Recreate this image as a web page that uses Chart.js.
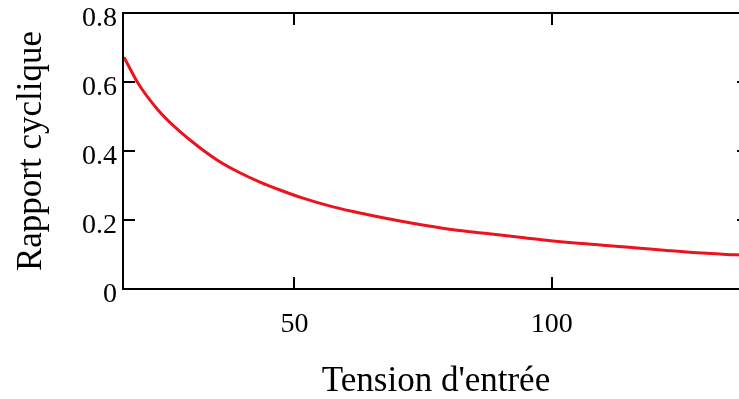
<!DOCTYPE html>
<html>
<head>
<meta charset="utf-8">
<script src="https://cdn.jsdelivr.net/npm/chart.js@4"></script>
<style>
  html, body { margin: 0; padding: 0; background: #ffffff; overflow: hidden; }
  #wrap { width: 739px; height: 399px; overflow: hidden; }
</style>
</head>
<body>
<div id="wrap"><canvas id="lineChart" width="749" height="399"></canvas></div>
<script>
// valeurs
const tension = [16.9, 19.6, 23.5, 27.4, 31.5, 35.5, 39.4, 43.3, 47.2, 51.5, 57.5, 64.1, 70.5, 75.5, 80.8, 87.4, 93.8, 100.2, 104.5, 109.9, 116.5, 122.9, 129.3, 135.9, 138.2];
const rapport = [0.672, 0.597, 0.519, 0.461, 0.411, 0.369, 0.337, 0.310, 0.287, 0.264, 0.238, 0.216, 0.197, 0.184, 0.172, 0.161, 0.150, 0.139, 0.133, 0.127, 0.119, 0.111, 0.104, 0.099, 0.097];
const xTicks = [50, 100];
const yTicks = [0, 0.2, 0.4, 0.6, 0.8];

// petits traits vers l'interieur + cadre, facon Mathcad
const cadre = {
    id: 'cadre',
    afterDraw(chart) {
        const ctx = chart.ctx;
        const a = chart.chartArea;
        const sx = chart.scales.x, sy = chart.scales.y;
        ctx.save();
        ctx.strokeStyle = '#000000';
        ctx.lineWidth = 2;
        ctx.beginPath();
        ctx.moveTo(a.right, a.top);
        ctx.lineTo(a.left, a.top);
        ctx.lineTo(a.left, a.bottom);
        ctx.lineTo(a.right, a.bottom);
        ctx.lineTo(a.right, a.top);
        xTicks.forEach(v => {
            const px = Math.round(sx.getPixelForValue(v));
            ctx.moveTo(px, a.bottom); ctx.lineTo(px, a.bottom - 12);
            ctx.moveTo(px, a.top); ctx.lineTo(px, a.top + 12);
        });
        yTicks.slice(1, -1).forEach(v => {
            const py = Math.round(sy.getPixelForValue(v));
            ctx.moveTo(a.left, py); ctx.lineTo(a.left + 12, py);
            ctx.moveTo(a.right, py); ctx.lineTo(a.right - 12, py);
        });
        ctx.stroke();
        ctx.restore();
    }
};

function getLineChart() {
    const ctx = document.getElementById('lineChart').getContext('2d');
    const lineChart = new Chart(ctx, {
        type: 'line',
        data: {
            datasets: [{
                data: tension.map((v, i) => ({ x: v, y: rapport[i] })),
                borderColor: 'rgb(235, 20, 30)',
                borderWidth: 3,
                pointRadius: 0,
                cubicInterpolationMode: 'monotone',
                fill: false
            }]
        },
        options: {
            responsive: false,
            animation: false,
            layout: { padding: { top: 13, left: 0, right: 0, bottom: 0 } },
            plugins: {
                legend: { display: false },
                tooltip: { enabled: false }
            },
            scales: {
                x: {
                    type: 'linear',
                    min: 16.7,
                    max: 138.3,
                    afterFit: s => { s.height = 110; s.paddingLeft = 0; s.paddingRight = 0; },
                    afterBuildTicks: s => { s.ticks = xTicks.map(v => ({ value: v })); },
                    grid: { display: false, drawTicks: false },
                    border: { display: false },
                    ticks: {
                        padding: 19,
                        color: '#000000',
                        font: { family: 'Liberation Serif', size: 28 }
                    },
                    title: {
                        display: true,
                        text: "Tension d'entrée",
                        color: '#000000',
                        font: { family: 'Liberation Serif', size: 35, lineHeight: 1 },
                        padding: { top: 0, bottom: 0 }
                    }
                },
                y: {
                    min: 0,
                    max: 0.8,
                    afterFit: s => { s.width = 123; s.paddingTop = 0; s.paddingBottom = 0; },
                    afterBuildTicks: s => { s.ticks = yTicks.map(v => ({ value: v })); },
                    grid: { display: false, drawTicks: false },
                    border: { display: false },
                    ticks: {
                        padding: 6,
                        labelOffset: 6,
                        color: '#000000',
                        font: { family: 'Liberation Serif', size: 28 }
                    },
                    title: {
                        display: true,
                        text: 'Rapport cyclique',
                        color: '#000000',
                        font: { family: 'Liberation Serif', size: 35, lineHeight: 1 },
                        padding: { top: 14, bottom: 0 }
                    }
                }
            }
        },
        plugins: [cadre]
    });
}

getLineChart();
</script>
</body>
</html>
